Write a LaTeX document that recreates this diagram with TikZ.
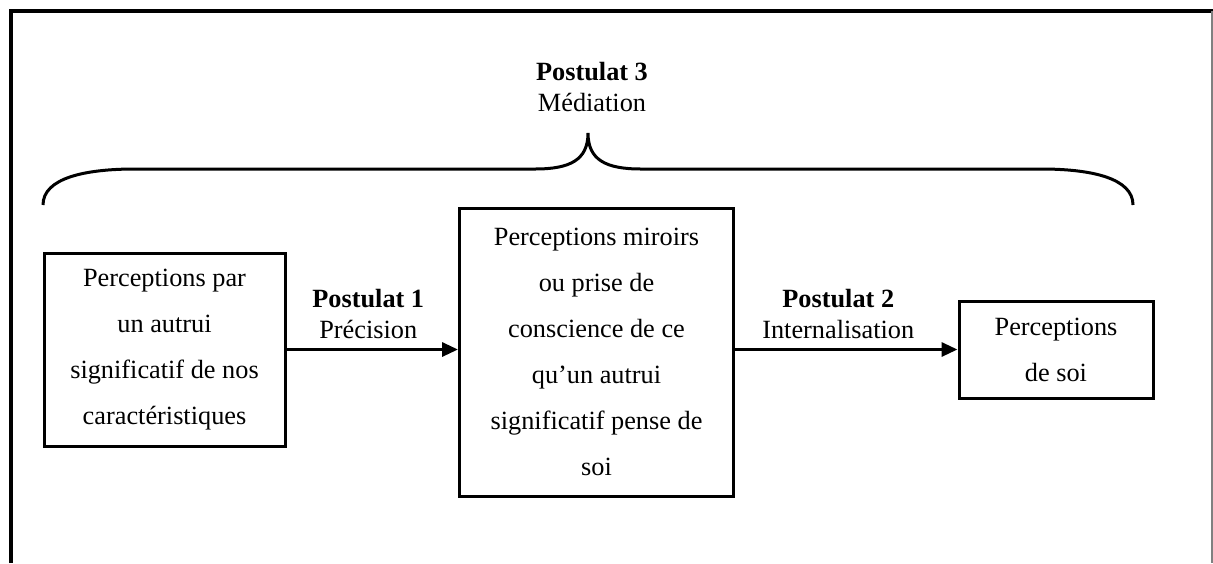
\documentclass[tikz,border=0pt]{standalone}
\usepackage{fontspec}
\setmainfont{Liberation Serif}
\usetikzlibrary{arrows.meta}

\begin{document}
\begin{tikzpicture}[x=0.5pt,y=-0.5pt]
\tikzset{BoxStyle/.style={draw, line width=1.5pt, align=center, inner sep=0pt,
  font=\fontsize{13.15}{23}\selectfont}}
\tikzset{EdgeStyle/.style={line width=1.6pt, -{Triangle[length=8pt,width=7pt]}}}
\tikzset{LabelStyle/.style={align=center, font=\fontsize{13.15}{15.5}\selectfont}}
\useasboundingbox (0,0) rectangle (1213,563);
% cadre
\draw[line width=2pt] (10.5,563) -- (10.5,11) -- (1213,11);
\draw[gray, line width=0.6pt] (1212,11) -- (1212,563);
% boites
\node[BoxStyle, minimum width=120.5pt, minimum height=96.5pt] (autrui) at (164.5,349.5)
  {Perceptions par\\un autrui\\significatif de nos\\caractéristiques};
\node[BoxStyle, minimum width=137pt, minimum height=144pt] (miroir) at (596.5,352)
  {Perceptions miroirs\\ou prise de\\conscience de ce\\qu’un autrui\\significatif pense de\\soi};
\node[BoxStyle, minimum width=97pt, minimum height=48.5pt] (soi) at (1056,349.5)
  {Perceptions\\de soi};
% fleches
\draw[EdgeStyle] (autrui.east) -- node[LabelStyle, above=1pt, xshift=-2pt] (precision)
  {\textbf{Postulat 1}\\Précision} (miroir.west |- autrui.east);
\draw[EdgeStyle] (miroir.east |- soi.west) -- node[LabelStyle, above=1pt, xshift=-4pt] (internal)
  {\textbf{Postulat 2}\\Internalisation} (soi.west);
% accolade
\coordinate (pointe) at (588,133);
\draw[line width=1.5pt] (43,205) .. controls (43,178) and (85,169) .. (135,169)
  -- (535,169) .. controls (570,169) and (588,160) .. (pointe)
  .. controls (588,160) and (606,169) .. (641,169) -- (1041,169)
  .. controls (1091,169) and (1133,178) .. (1133,205);
\node[LabelStyle] (mediation) at (592,87) {\textbf{Postulat 3}\\Médiation};
\end{tikzpicture}
\end{document}
